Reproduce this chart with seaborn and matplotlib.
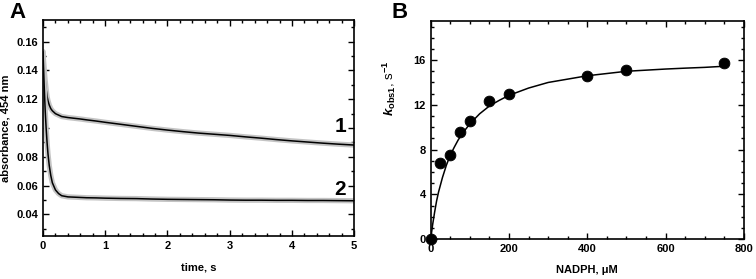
import numpy as np
import pandas as pd
import matplotlib
matplotlib.use("Agg")
import matplotlib.pyplot as plt
from matplotlib.ticker import MultipleLocator
import seaborn as sns

# Panel A: absorbance traces
time_s = [0, 0.01, 0.02, 0.035, 0.05, 0.065, 0.08, 0.1, 0.125, 0.15, 0.2,
          0.25, 0.3, 0.4, 0.5, 0.6, 0.7, 0.85, 1.0, 1.25, 1.5, 1.75, 2.0,
          2.25, 2.5, 2.75, 3.0, 3.25, 3.5, 3.75, 4.0, 4.25, 4.5, 4.75, 5.0]
trace_1 = [0.153, 0.146, 0.140, 0.133, 0.127, 0.122, 0.119, 0.116, 0.1135,
           0.112, 0.110, 0.109, 0.108, 0.1073, 0.1068, 0.1063, 0.1057,
           0.1049, 0.1040, 0.1026, 0.1012, 0.0998, 0.0986, 0.0975, 0.0965,
           0.0957, 0.0949, 0.0939, 0.093, 0.092, 0.0911, 0.0903, 0.0895,
           0.0888, 0.0882]
trace_2 = [0.153, 0.140, 0.128, 0.112, 0.100, 0.090, 0.082, 0.074, 0.067,
           0.062, 0.057, 0.0545, 0.053, 0.0522, 0.052, 0.0518, 0.0516,
           0.0515, 0.0513, 0.0511, 0.051, 0.0507, 0.0505, 0.0504, 0.0503,
           0.0502, 0.0500, 0.0499, 0.0499, 0.0498, 0.0498, 0.0497, 0.0497,
           0.0496, 0.0495]

# Panel B: kobs1 vs NADPH
nadph = [0, 25, 50, 75, 100, 150, 200, 400, 500, 750]
kobs1 = [0, 6.8, 7.5, 9.6, 10.6, 12.3, 13.0, 14.6, 15.1, 15.7]
fit_x = [0, 5, 10, 15, 20, 30, 40, 50, 60, 70, 80, 100, 125, 150, 175, 200,
         250, 300, 350, 400, 450, 500, 550, 600, 650, 700, 750]
fit_y = [0, 1.3, 2.4, 3.4, 4.2, 5.5, 6.6, 7.5, 8.2, 8.85, 9.4, 10.3, 11.2,
         11.9, 12.4, 12.85, 13.5, 14.0, 14.3, 14.6, 14.8, 15.0, 15.1, 15.2,
         15.28, 15.35, 15.45]

sns.set_style("ticks")
plt.rcParams["font.family"] = ["Liberation Sans", "DejaVu Sans"]
plt.rcParams["font.weight"] = "bold"
plt.rcParams["text.color"] = "black"
plt.rcParams["axes.labelcolor"] = "black"
plt.rcParams["xtick.color"] = "black"
plt.rcParams["ytick.color"] = "black"
plt.rcParams["axes.edgecolor"] = "black"
plt.rcParams["mathtext.fontset"] = "custom"
plt.rcParams["mathtext.rm"] = "Liberation Sans:bold"
plt.rcParams["mathtext.it"] = "Liberation Sans:bold:italic"
plt.rcParams["mathtext.bf"] = "Liberation Sans:bold"

fig = plt.figure(figsize=(7.56, 2.79), dpi=100)
ax_a = fig.add_axes([0.0569, 0.154, 0.4116, 0.774])
ax_b = fig.add_axes([0.5697, 0.143, 0.4144, 0.782])

df_a = pd.DataFrame({"t": time_s, "a1": trace_1, "a2": trace_2})
for col in ["a1", "a2"]:
    sns.lineplot(data=df_a, x="t", y=col, ax=ax_a, color="#c4c4c4",
                 lw=3.8, solid_capstyle="round")
    sns.lineplot(data=df_a, x="t", y=col, ax=ax_a, color="black", lw=1.1)

ax_a.set_xlim(0, 5)
ax_a.set_ylim(0.025, 0.175)
ax_a.xaxis.set_major_locator(MultipleLocator(1))
ax_a.xaxis.set_minor_locator(MultipleLocator(0.2))
ax_a.yaxis.set_minor_locator(MultipleLocator(0.01))
ax_a.set_yticks([0.04, 0.06, 0.08, 0.10, 0.12, 0.14, 0.16])
ax_a.set_yticklabels(["0.04", "0.06", "0.08", "0.10", "0.12", "0.14", "0.16"])
ax_a.set_xlabel("time, s", fontsize=8, fontweight="bold", labelpad=8)
ax_a.set_ylabel("absorbance, 454 nm", fontsize=8, fontweight="bold", labelpad=4)
ax_a.text(4.78, 0.0973, "1", fontsize=15, fontweight="bold", ha="center",
          color="black")
ax_a.text(4.78, 0.0535, "2", fontsize=15, fontweight="bold", ha="center",
          color="black")

df_b = pd.DataFrame({"x": nadph, "y": kobs1})
df_fit = pd.DataFrame({"x": fit_x, "y": fit_y})
sns.lineplot(data=df_fit, x="x", y="y", ax=ax_b, color="black", lw=1.1)
sns.scatterplot(data=df_b, x="x", y="y", ax=ax_b, color="black", s=60,
                edgecolor="black", zorder=5, clip_on=False)

ax_b.set_xlim(0, 800)
ax_b.set_ylim(0, 19.5)
ax_b.xaxis.set_major_locator(MultipleLocator(200))
ax_b.xaxis.set_minor_locator(MultipleLocator(50))
ax_b.yaxis.set_major_locator(MultipleLocator(4))
ax_b.yaxis.set_minor_locator(MultipleLocator(1))
ax_b.set_xlabel("NADPH, \u03bcM", fontsize=8, fontweight="bold", labelpad=8)
ax_b.set_ylabel(r"$k_{\rm obs1}$, s$^{-1}$", fontsize=9.5)
ax_b.yaxis.set_label_coords(-0.105, 0.69)

for ax in [ax_a, ax_b]:
    for sp in ax.spines.values():
        sp.set_linewidth(1.2)
        sp.set_visible(True)
    ax.tick_params(which="both", direction="in", top=True, right=True,
                   labelsize=8, width=1.0, colors="black")
    ax.tick_params(which="major", length=4)
    ax.tick_params(which="minor", length=2)
    for lbl in ax.get_xticklabels() + ax.get_yticklabels():
        lbl.set_fontweight("bold")

fig.text(0.012, 0.935, "A", fontsize=16, fontweight="bold")
fig.text(0.518, 0.935, "B", fontsize=16, fontweight="bold")

fig.savefig("out.png", dpi=100)
